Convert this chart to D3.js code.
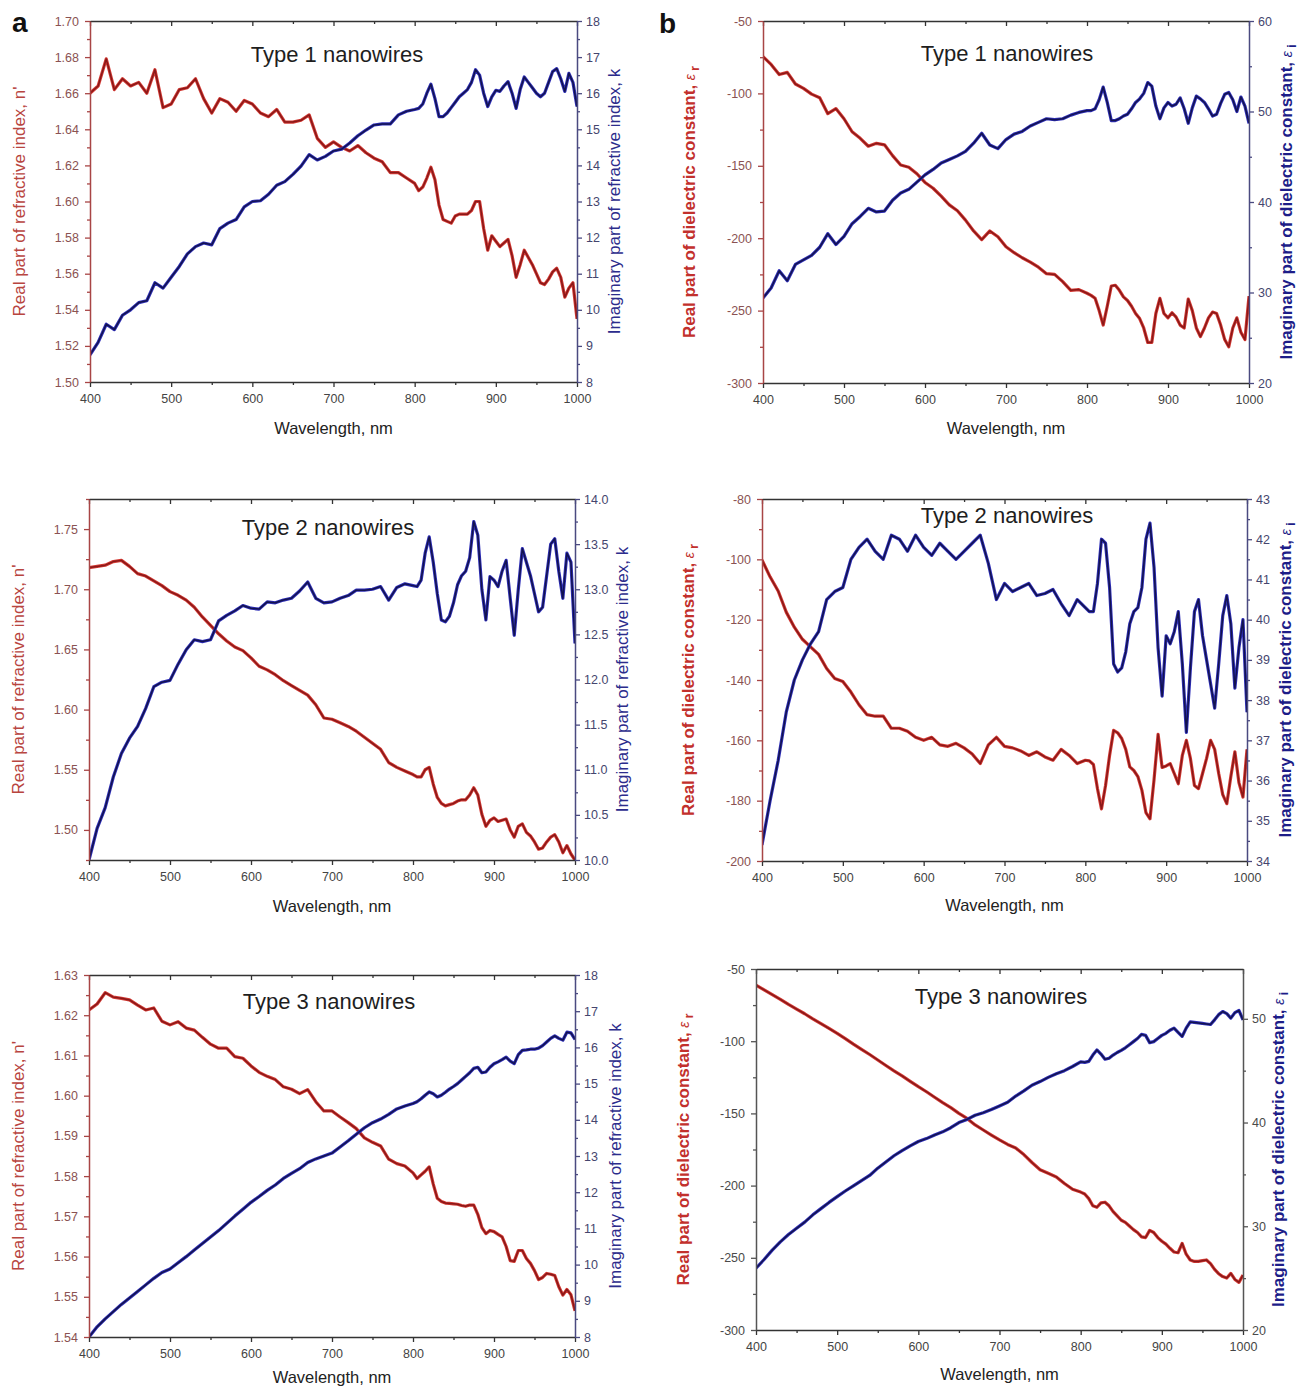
<!DOCTYPE html>
<html>
<head>
<meta charset="utf-8">
<script src="https://cdn.jsdelivr.net/npm/d3@7"></script>
<style>
body { margin: 0; background: #fff; }
svg text { font-family: "Liberation Sans", Arial, sans-serif; }
</style>
</head>
<body>
<div id="chart"></div>
<script>
// wavelength grid (nm): 10 nm steps up to 800, then 5 nm steps
const wl = [400,410,420,430,440,450,460,470,480,490,
            500,510,520,530,540,550,560,570,580,590,
            600,610,620,630,640,650,660,670,680,690,
            700,710,720,730,740,750,760,770,780,790,
            800,805,810,815,820,825,830,835,840,845,
            850,855,860,865,870,875,880,885,890,895,
            900,905,910,915,920,925,930,935,940,945,
            950,955,960,965,970,975,980,985,990,995,
            1000]

// Type 1 nanowires - refractive index n' and k
const t1n = [1.660,1.664,1.679,1.662,1.668,1.664,1.666,1.660,1.673,1.652,
             1.654,1.662,1.663,1.668,1.657,1.649,1.657,1.655,1.650,1.656,
             1.654,1.649,1.647,1.651,1.644,1.644,1.645,1.648,1.635,1.630,
             1.633,1.630,1.628,1.631,1.627,1.624,1.622,1.616,1.616,1.613,
             1.610,1.606,1.608,1.613,1.619,1.612,1.598,1.590,1.589,1.588,
             1.592,1.593,1.593,1.593,1.595,1.600,1.600,1.585,1.573,1.581,
             1.578,1.575,1.577,1.579,1.570,1.558,1.565,1.573,1.569,1.565,
             1.560,1.555,1.554,1.557,1.561,1.563,1.558,1.547,1.552,1.555,
             1.535]
const t1k = [8.75,9.10,9.60,9.45,9.85,10.0,10.2,10.25,10.75,10.6,
             10.9,11.2,11.55,11.75,11.85,11.8,12.25,12.4,12.5,12.85,
             13.0,13.02,13.2,13.45,13.55,13.75,13.98,14.3,14.15,14.25,
             14.4,14.45,14.62,14.82,14.98,15.12,15.15,15.15,15.4,15.5,
             15.55,15.58,15.7,16.0,16.25,15.85,15.35,15.35,15.45,15.6,
             15.75,15.9,16.0,16.1,16.3,16.65,16.5,16.0,15.63,15.9,
             16.08,16.05,16.2,16.32,16.0,15.58,16.1,16.45,16.3,16.15,
             16.0,15.9,16.0,16.3,16.6,16.68,16.4,16.05,16.55,16.3,
             15.63]
// Type 1 nanowires - dielectric constant
const t1er = [-74.6,-80,-87,-85.5,-93.5,-96.5,-100.5,-103,-114,-110.5,
              -117.5,-126.5,-131,-136.5,-134.5,-135.5,-143,-149.5,-151,-155.5,
              -161.5,-165.5,-171,-177,-181,-187.5,-195,-201,-195,-199,
              -205.9,-210,-213.5,-216.5,-220,-224.5,-225,-230,-236,-235.5,
              -238,-239.5,-241.5,-250,-260,-247,-233,-232.5,-236,-240.5,
              -243,-247,-252,-255.5,-262,-272,-272,-252,-241.5,-252,
              -255,-251.5,-254.5,-260,-262,-242,-250,-262,-268,-262,
              -255,-251,-252,-260,-270,-275,-262,-255,-265,-270,
              -240]
const t1ei = [29.4,30.5,32.4,31.3,33.1,33.6,34.1,35.0,36.5,35.3,
              36.2,37.6,38.4,39.3,38.9,39.0,40.2,41.0,41.4,42.2,
              43.0,43.6,44.3,44.7,45.1,45.6,46.5,47.6,46.3,45.9,
              46.9,47.5,47.8,48.4,48.8,49.2,49.1,49.2,49.6,49.9,
              50.1,50.1,50.3,51.3,52.7,51.0,49.0,49.0,49.2,49.5,
              49.7,50.3,51.0,51.4,52.0,53.2,52.8,50.6,49.2,50.4,
              51.0,50.6,50.8,51.5,50.3,48.7,50.4,51.7,51.4,51.0,
              50.3,49.5,49.7,50.9,51.9,52.1,51.3,50.0,51.6,50.6,
              48.7]

// Type 2 nanowires
const t2n = [1.718,1.719,1.720,1.723,1.724,1.719,1.713,1.711,1.707,1.703,
             1.698,1.695,1.691,1.685,1.677,1.670,1.663,1.657,1.652,1.649,
             1.643,1.636,1.633,1.629,1.624,1.620,1.616,1.612,1.604,1.593,
             1.592,1.589,1.586,1.582,1.577,1.572,1.567,1.556,1.552,1.549,
             1.546,1.544,1.544,1.550,1.552,1.538,1.527,1.522,1.520,1.521,
             1.522,1.524,1.525,1.525,1.529,1.535,1.529,1.513,1.503,1.508,
             1.510,1.507,1.508,1.509,1.500,1.494,1.503,1.505,1.498,1.495,
             1.490,1.484,1.485,1.490,1.494,1.496,1.490,1.481,1.487,1.480,
             1.475]
const t2k = [10.0,10.35,10.58,10.92,11.18,11.35,11.48,11.68,11.92,11.97,
             11.99,12.17,12.33,12.44,12.42,12.44,12.65,12.71,12.76,12.82,
             12.79,12.78,12.86,12.85,12.88,12.90,12.98,13.08,12.90,12.85,
             12.86,12.90,12.93,12.99,12.99,13.0,13.03,12.88,13.02,13.06,
             13.04,13.03,13.1,13.4,13.58,13.3,12.95,12.66,12.64,12.70,
             12.85,13.05,13.15,13.2,13.35,13.75,13.6,13.0,12.66,13.14,
             13.1,13.03,13.2,13.32,12.9,12.49,13.0,13.45,13.3,13.15,
             12.95,12.75,12.8,13.15,13.5,13.56,13.2,12.9,13.4,13.3,
             12.4]
const t2er = [-100.2,-105.8,-110.5,-117.5,-122.5,-126.5,-129,-131.5,-136.2,-139.5,
              -140.5,-144,-148.2,-151.5,-152,-152,-156,-156,-157,-159,
              -160,-159,-161.5,-162,-161,-162.5,-164.5,-167.7,-161.5,-159,
              -162,-162.5,-163.5,-165,-163.8,-165.5,-166.6,-163,-165,-167.7,
              -166.6,-166.8,-168,-176,-182.7,-175,-165,-156.7,-157.5,-159.4,
              -163,-168.8,-170,-172,-176.6,-184,-186,-173,-158,-169,
              -168.5,-167.7,-171,-174.4,-165,-160,-166,-175,-176,-171,
              -166,-160,-163,-171,-178,-181,-172,-163.8,-174,-178.8,
              -163]
const t2ei = [34.4,35.5,36.5,37.7,38.5,39.0,39.4,39.7,40.5,40.7,
              40.8,41.5,41.8,42.0,41.7,41.5,42.1,42.0,41.7,42.1,
              41.8,41.6,41.9,41.7,41.5,41.7,41.9,42.1,41.4,40.5,
              40.9,40.7,40.8,40.9,40.6,40.65,40.75,40.4,40.1,40.5,
              40.3,40.2,40.2,40.9,42.0,41.9,40.8,38.9,38.7,38.8,
              39.2,39.9,40.2,40.3,40.8,42.0,42.4,41.3,39.3,38.1,
              39.6,39.4,39.7,40.2,38.9,37.2,38.8,40.2,40.5,39.6,
              39.0,38.4,37.8,38.9,40.1,40.6,39.9,38.3,39.3,40.0,
              37.7]

// Type 3 nanowires
const t3n = [1.6213,1.6228,1.6256,1.6245,1.6242,1.6238,1.6225,1.6213,1.6218,1.6185,
             1.6176,1.6184,1.6168,1.6163,1.6145,1.6128,1.6118,1.6118,1.6097,1.6093,
             1.6074,1.6058,1.6048,1.6040,1.6022,1.6016,1.6005,1.6015,1.5985,1.5962,
             1.5962,1.5947,1.5933,1.5918,1.5895,1.5884,1.5875,1.5842,1.5831,1.5825,
             1.5808,1.5794,1.5803,1.5812,1.5823,1.5780,1.5745,1.5737,1.5733,1.5732,
             1.5731,1.5730,1.5727,1.5725,1.5728,1.5728,1.5705,1.5672,1.5657,1.5665,
             1.5662,1.5655,1.5649,1.5625,1.5590,1.5588,1.5615,1.5615,1.5595,1.5583,
             1.5565,1.5543,1.5548,1.5558,1.5556,1.5553,1.5525,1.5504,1.5518,1.5505,
             1.5465]
const t3k = [8.0,8.28,8.5,8.7,8.9,9.08,9.26,9.44,9.62,9.78,
             9.88,10.05,10.22,10.4,10.58,10.76,10.94,11.14,11.34,11.53,
             11.72,11.88,12.05,12.2,12.38,12.52,12.65,12.82,12.92,13.0,
             13.08,13.25,13.42,13.6,13.78,13.92,14.02,14.15,14.3,14.38,
             14.45,14.5,14.58,14.68,14.77,14.72,14.63,14.68,14.76,14.85,
             14.92,15.0,15.1,15.2,15.3,15.42,15.45,15.3,15.32,15.45,
             15.55,15.6,15.66,15.73,15.62,15.55,15.8,15.92,15.93,15.95,
             15.95,15.98,16.05,16.15,16.25,16.32,16.25,16.2,16.42,16.4,
             16.22]
const t3er = [-61.1,-64.5,-67.8,-71,-74.5,-77.8,-81,-84.5,-87.8,-91.2,
              -94.6,-98.2,-102,-105.6,-109.2,-113,-116.8,-120.5,-124,-127.8,
              -131.5,-135,-138.8,-142.5,-146,-150,-153.5,-158,-161.5,-165,
              -168.4,-171.5,-174,-178.5,-184,-189,-191.5,-194,-198.5,-202.5,
              -204.5,-205.8,-209,-214,-215,-212,-211.5,-214,-218,-221,
              -224,-225.5,-228,-230.5,-232.5,-235.5,-236,-231,-232.5,-236,
              -238.5,-240.5,-243.4,-246,-246.5,-240,-247.5,-251.5,-252.5,-252.5,
              -252,-251.5,-254,-258,-261,-263,-264,-260.8,-265,-267,
              -262]
const t3ei = [25.95,26.8,27.7,28.5,29.2,29.8,30.4,31.1,31.7,32.3,
              32.86,33.4,33.9,34.4,34.9,35.6,36.2,36.8,37.3,37.75,
              38.17,38.45,38.8,39.1,39.5,40.0,40.3,40.7,40.95,41.25,
              41.6,41.95,42.55,43.05,43.6,43.95,44.35,44.7,45.0,45.4,
              45.85,45.8,45.9,46.5,47.0,46.6,46.1,46.2,46.5,46.75,
              46.95,47.2,47.5,47.8,48.1,48.5,48.4,47.7,47.8,48.1,
              48.4,48.6,48.9,49.1,48.7,48.3,49.1,49.7,49.65,49.6,
              49.55,49.5,49.45,49.9,50.4,50.7,50.5,50.06,50.6,50.8,
              49.9]

// tick labels
const xTicks = [400,500,600,700,800,900,1000]
const n1Ticks = [1.50,1.52,1.54,1.56,1.58,1.60,1.62,1.64,1.66,1.68,1.70]
const k1Ticks = [8,9,10,11,12,13,14,15,16,17,18]
const er1Ticks = [-300,-250,-200,-150,-100,-50]
const ei1Ticks = [20,30,40,50,60]
const n2Ticks = [1.50,1.55,1.60,1.65,1.70,1.75]
const k2Ticks = [10.0,10.5,11.0,11.5,12.0,12.5,13.0,13.5,14.0]
const er2Ticks = [-200,-180,-160,-140,-120,-100,-80]
const ei2Ticks = [34,35,36,37,38,39,40,41,42,43]
const n3Ticks = [1.54,1.55,1.56,1.57,1.58,1.59,1.60,1.61,1.62,1.63]
const k3Ticks = [8,9,10,11,12,13,14,15,16,17,18]
const er3Ticks = [-300,-250,-200,-150,-100,-50]
const ei3Ticks = [20,30,40,50]

const loc = d3.formatLocale({decimal: ".", thousands: ",", grouping: [3], currency: ["", ""], minus: "-"})

const svg = d3.select("#chart").append("svg")
    .attr("width", 1304)
    .attr("height", 1391)

const refT = {real: "Real part of refractive index, n'", imag: "Imaginary part of refractive index, k", bold: false}
const dieT = {real: "Real part of dielectric constant, ", imag: "Imaginary part of dielectric constant, ", bold: true}

const panels = [
  {id: 1, left: 90, right: 577, top: 21, bottom: 382, real: t1n, imag: t1k, lDom: [1.50, 1.70], rDom: [8, 18],
   lTicks: n1Ticks, rTicks: k1Ticks, lFmt: ".2f", rFmt: "d", txt: refT, lTx: 19, rTx: 614, xOff: 52,
   title: "Type 1 nanowires", tx: 337, ty: 62, label: "a", lx: 12, ly: 32},
  {id: 2, left: 763, right: 1249, top: 21, bottom: 383, real: t1er, imag: t1ei, lDom: [-300, -50], rDom: [20, 60],
   lTicks: er1Ticks, rTicks: ei1Ticks, lFmt: "d", rFmt: "d", txt: dieT, lTx: 689, rTx: 1286, xOff: 51,
   title: "Type 1 nanowires", tx: 1007, ty: 61, label: "b", lx: 659, ly: 33},
  {id: 3, left: 89, right: 575, top: 499, bottom: 860, real: t2n, imag: t2k, lDom: [1.475, 1.775], rDom: [10, 14],
   lTicks: n2Ticks, rTicks: k2Ticks, lFmt: ".2f", rFmt: ".1f", txt: refT, lTx: 18, rTx: 622, xOff: 52,
   title: "Type 2 nanowires", tx: 328, ty: 535},
  {id: 4, left: 762, right: 1247, top: 499, bottom: 861, real: t2er, imag: t2ei, lDom: [-200, -80], rDom: [34, 43],
   lTicks: er2Ticks, rTicks: ei2Ticks, lFmt: "d", rFmt: "d", txt: dieT, lTx: 688, rTx: 1285, xOff: 50,
   title: "Type 2 nanowires", tx: 1007, ty: 523},
  {id: 5, left: 89, right: 575, top: 975, bottom: 1337, real: t3n, imag: t3k, lDom: [1.54, 1.63], rDom: [8, 18],
   lTicks: n3Ticks, rTicks: k3Ticks, lFmt: ".2f", rFmt: "d", txt: refT, lTx: 18, rTx: 615, xOff: 46,
   title: "Type 3 nanowires", tx: 329, ty: 1009},
  {id: 6, left: 756, right: 1243, top: 969, bottom: 1330, real: t3er, imag: t3ei, lDom: [-300, -50], rDom: [20, 54.8],
   lTicks: er3Ticks, rTicks: ei3Ticks, lFmt: "d", rFmt: "d", txt: dieT, lTx: 683, rTx: 1278, xOff: 50,
   title: "Type 3 nanowires", tx: 1001, ty: 1004, gray: true}
]

// minor ticks halfway between the majors, kept inside the domain
function minorTicks(ticks, dom) {
  const step = (ticks[1] - ticks[0]) / 2
  const lo = Math.min(dom[0], dom[1]) - 1e-9, hi = Math.max(dom[0], dom[1]) + 1e-9
  const out = []
  for (let v = ticks[0] - step; v <= hi; v += 2 * step) {
    if (v >= lo) out.push(+v.toFixed(6))
  }
  return out
}

function styleAxis(sel, lineCol, textCol) {
  sel.select(".domain").attr("stroke", lineCol).attr("stroke-width", 1.5)
  sel.selectAll(".tick line").attr("stroke", lineCol).attr("stroke-width", 1.3)
  sel.selectAll(".tick text").attr("fill", textCol).attr("font-size", 12.5)
}

function drawPanel(p) {
  const x = d3.scaleLinear().domain([400, 1000]).range([p.left, p.right])
  const yL = d3.scaleLinear().domain(p.lDom).range([p.bottom, p.top])
  const yR = d3.scaleLinear().domain(p.rDom).range([p.bottom, p.top])
  const g = svg.append("g")

  const redAxis = p.gray ? "#555" : "#a84545"
  const blueAxis = p.gray ? "#555" : "#4a4a80"
  const redTxt = p.gray ? "#4a4a4a" : "#8a5252"
  const blueTxt = p.gray ? "#4a4a4a" : "#45456e"
  const frame = "#333"

  g.append("clipPath").attr("id", "clip" + p.id)
    .append("rect")
    .attr("x", p.left).attr("y", p.top - 2)
    .attr("width", p.right - p.left + 1).attr("height", p.bottom - p.top + 4)

  const curves = g.append("g").attr("clip-path", `url(#clip${p.id})`)
  const lineL = d3.line().x((d, i) => x(wl[i])).y(d => yL(d))
  const lineR = d3.line().x((d, i) => x(wl[i])).y(d => yR(d))

  // each curve: coloured halo with a darker core, like the scanned figure
  const series = [
    {data: p.real, line: lineL, halo: "#d33a34", core: "#8a1818"},
    {data: p.imag, line: lineR, halo: "#2f2fb8", core: "#13134f"}
  ]
  series.forEach(s => {
    curves.append("path").datum(s.data)
      .attr("d", s.line).attr("fill", "none")
      .attr("stroke", s.halo).attr("stroke-width", 3.2).attr("stroke-linejoin", "round")
    curves.append("path").datum(s.data)
      .attr("d", s.line).attr("fill", "none")
      .attr("stroke", s.core).attr("stroke-width", 1.5).attr("stroke-linejoin", "round")
  })

  const xMinor = minorTicks(xTicks, [400, 1000])
  const lMinor = minorTicks(p.lTicks, p.lDom)
  const rMinor = minorTicks(p.rTicks, p.rDom)

  // bottom
  const bx = g.append("g").attr("transform", `translate(0,${p.bottom})`)
    .call(d3.axisBottom(x).tickValues(xTicks).tickSize(5).tickSizeOuter(0).tickPadding(7).tickFormat(d3.format("d")))
  styleAxis(bx, frame, "#444")
  const bxm = g.append("g").attr("transform", `translate(0,${p.bottom})`)
    .call(d3.axisBottom(x).tickValues(xMinor).tickSize(3).tickSizeOuter(0).tickFormat(""))
  bxm.select(".domain").remove()
  styleAxis(bxm, frame, "#444")

  // top (ticks inward)
  const tx = g.append("g").attr("transform", `translate(0,${p.top})`)
    .call(d3.axisTop(x).tickValues(xTicks).tickSize(-5).tickSizeOuter(0).tickFormat(""))
  styleAxis(tx, frame, "#444")
  const txm = g.append("g").attr("transform", `translate(0,${p.top})`)
    .call(d3.axisTop(x).tickValues(xMinor).tickSize(-3).tickSizeOuter(0).tickFormat(""))
  txm.select(".domain").remove()
  styleAxis(txm, frame, "#444")

  // left
  const la = g.append("g").attr("transform", `translate(${p.left},0)`)
    .call(d3.axisLeft(yL).tickValues(p.lTicks).tickSize(5).tickSizeOuter(0).tickPadding(6).tickFormat(loc.format(p.lFmt)))
  styleAxis(la, redAxis, redTxt)
  const lam = g.append("g").attr("transform", `translate(${p.left},0)`)
    .call(d3.axisLeft(yL).tickValues(lMinor).tickSize(3).tickSizeOuter(0).tickFormat(""))
  lam.select(".domain").remove()
  styleAxis(lam, redAxis, redTxt)

  // right
  const ra = g.append("g").attr("transform", `translate(${p.right},0)`)
    .call(d3.axisRight(yR).tickValues(p.rTicks).tickSize(5).tickSizeOuter(0).tickPadding(4).tickFormat(loc.format(p.rFmt)))
  styleAxis(ra, blueAxis, blueTxt)
  const ram = g.append("g").attr("transform", `translate(${p.right},0)`)
    .call(d3.axisRight(yR).tickValues(rMinor).tickSize(3).tickSizeOuter(0).tickFormat(""))
  ram.select(".domain").remove()
  styleAxis(ram, blueAxis, blueTxt)

  // x axis title
  g.append("text")
    .attr("x", (p.left + p.right) / 2).attr("y", p.bottom + p.xOff)
    .attr("text-anchor", "middle").attr("font-size", 16.5).attr("fill", "#222")
    .text("Wavelength, nm")

  // y axis titles
  const midY = (p.top + p.bottom) / 2
  const lt = g.append("text")
    .attr("transform", `translate(${p.lTx},${midY}) rotate(-90)`)
    .attr("text-anchor", "middle").attr("dy", "0.35em").attr("font-size", 17)
    .attr("font-weight", p.txt.bold ? "bold" : "normal")
    .attr("fill", p.txt.bold ? "#c2302c" : "#b8453f")
    .text(p.txt.real)
  const rt = g.append("text")
    .attr("transform", `translate(${p.rTx},${midY}) rotate(-90)`)
    .attr("text-anchor", "middle").attr("dy", "0.35em").attr("font-size", 17)
    .attr("font-weight", p.txt.bold ? "bold" : "normal")
    .attr("fill", p.txt.bold ? "#1d1d88" : "#2c2c8c")
    .text(p.txt.imag)
  if (p.txt.bold) {
    // epsilon with subscript r / i
    [[lt, "r"], [rt, "i"]].forEach(([t, sub]) => {
      t.append("tspan").attr("font-weight", "normal").attr("font-size", 14).attr("font-style", "italic").text("\u03b5")
      t.append("tspan").attr("dx", 3).attr("dy", 4).attr("font-size", 13).text(sub)
    })
  }

  // panel title
  g.append("text")
    .attr("x", p.tx).attr("y", p.ty)
    .attr("text-anchor", "middle").attr("font-size", 22).attr("fill", "#1e1e1e")
    .text(p.title)

  if (p.label) {
    g.append("text")
      .attr("x", p.lx).attr("y", p.ly)
      .attr("font-size", 28).attr("font-weight", "bold").attr("fill", "#111")
      .text(p.label)
  }
}

panels.forEach(drawPanel)
</script>
</body>
</html>
